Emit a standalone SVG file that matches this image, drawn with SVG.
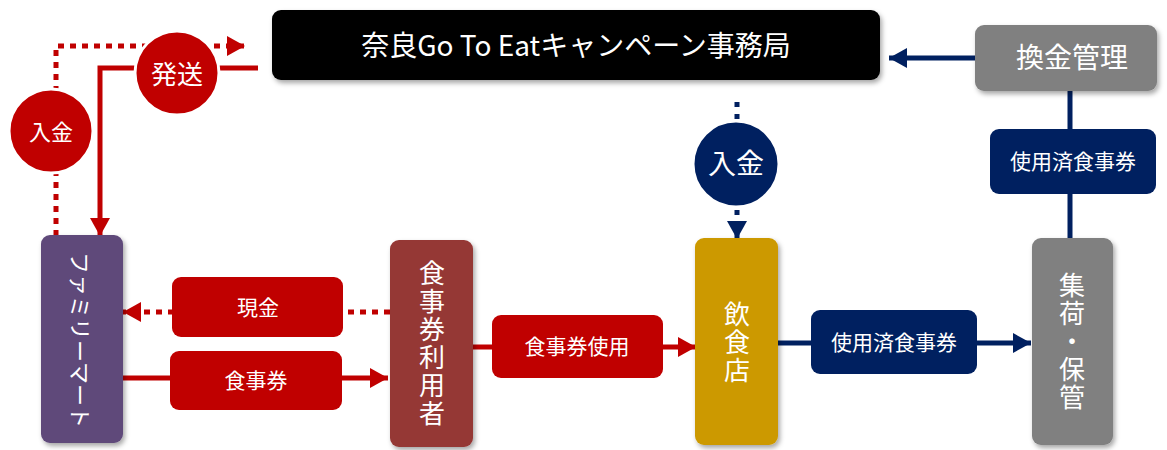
<svg xmlns="http://www.w3.org/2000/svg" width="1167" height="450" viewBox="0 0 1167 450">
<defs>
<filter id="sh" x="-20%" y="-20%" width="140%" height="140%">
<feDropShadow dx="2" dy="3" stdDeviation="2.5" flood-color="#000" flood-opacity="0.35"/>
</filter>
<marker id="ar" markerUnits="userSpaceOnUse" markerWidth="20" markerHeight="20" refX="18" refY="10" orient="auto" viewBox="0 0 20 20">
<path d="M0,0 L18,10 L0,20 z" fill="#C00000"/>
</marker>
<marker id="an" markerUnits="userSpaceOnUse" markerWidth="20" markerHeight="20" refX="18" refY="10" orient="auto" viewBox="0 0 20 20">
<path d="M0,0 L18,10 L0,20 z" fill="#002060"/>
</marker>
</defs>
<style>
text{font-family:"Noto Sans CJK JP","Noto Sans",sans-serif;fill:#fff;text-anchor:middle;dominant-baseline:central}
.red{stroke:#C00000;stroke-width:5;fill:none}
.navy{stroke:#002060;stroke-width:5;fill:none}
.dot{stroke-dasharray:6 6}
.ndot{stroke-dasharray:5 7}
.lbl{font-size:21px}
.vert{font-size:26px;writing-mode:vertical-rl;letter-spacing:2px}
</style>
<g id="connectors">
<path class="red dot" d="M56,236 V46 H245" marker-end="url(#ar)"/>
<path class="red" d="M258,68 H100 V236" marker-end="url(#ar)"/>
<path class="red dot" d="M390,312 H123" marker-end="url(#ar)"/>
<path class="red" d="M122,378 H388" marker-end="url(#ar)"/>
<path class="red" d="M472,347 H696" marker-end="url(#ar)"/>
<path class="navy" d="M777,343 H1031" marker-end="url(#an)"/>
<path class="navy" d="M975,58 H889" marker-end="url(#an)"/>
<path class="navy" d="M1070,91 V240"/>
<path class="navy ndot" d="M737,102 V239" marker-end="url(#an)"/>
</g>
<g id="office">
<rect x="272" y="10" width="608" height="70" rx="9" fill="#000" filter="url(#sh)"/>
<text x="576" y="44" style="font-size:28px">奈良Go To Eatキャンペーン事務局</text>
</g>
<g id="exchange">
<rect x="975" y="25" width="182" height="66" rx="9" fill="#808080" filter="url(#sh)"/>
<text x="1072" y="56" style="font-size:28px">換金管理</text>
</g>
<g id="send">
<circle cx="177" cy="73" r="42" fill="#C00000" stroke="#fff" stroke-width="3"/>
<text x="177" y="72" style="font-size:26px">発送</text>
</g>
<g id="pay-red">
<circle cx="51" cy="131" r="42" fill="#C00000" stroke="#fff" stroke-width="3"/>
<text x="51" y="130" style="font-size:22px">入金</text>
</g>
<g id="pay-navy">
<circle cx="736" cy="164" r="43" fill="#002060" stroke="#fff" stroke-width="3"/>
<text x="736" y="162" style="font-size:28px">入金</text>
</g>
<g id="used-top">
<rect x="990" y="129" width="166" height="65" rx="9" fill="#002060"/>
<text x="1073" y="160" class="lbl">使用済食事券</text>
</g>
<g id="familymart">
<rect x="41" y="235" width="82" height="208" rx="9" fill="#5F497A" filter="url(#sh)"/>
<text x="82" y="340" style="font-size:22px" transform="rotate(90 82 340)">ファミリーマート</text>
</g>
<g id="cash">
<rect x="172" y="277" width="171" height="60" rx="9" fill="#C00000"/>
<text x="258" y="306" class="lbl">現金</text>
</g>
<g id="ticket">
<rect x="170" y="351" width="172" height="59" rx="9" fill="#C00000"/>
<text x="256" y="379" class="lbl">食事券</text>
</g>
<g id="user">
<rect x="390" y="240" width="83" height="207" rx="9" fill="#953735" filter="url(#sh)"/>
<text x="432" y="344" class="vert">食事券利用者</text>
</g>
<g id="use">
<rect x="492" y="315" width="171" height="63" rx="9" fill="#C00000"/>
<text x="577" y="345" class="lbl">食事券使用</text>
</g>
<g id="restaurant">
<rect x="695" y="238" width="83" height="207" rx="9" fill="#CC9900" filter="url(#sh)"/>
<text x="737" y="343" class="vert">飲食店</text>
</g>
<g id="used">
<rect x="811" y="310" width="166" height="64" rx="9" fill="#002060"/>
<text x="894" y="341" class="lbl">使用済食事券</text>
</g>
<g id="storage">
<rect x="1032" y="238" width="81" height="207" rx="9" fill="#808080" filter="url(#sh)"/>
<text x="1072" y="342" class="vert">集荷・保管</text>
</g>
</svg>
